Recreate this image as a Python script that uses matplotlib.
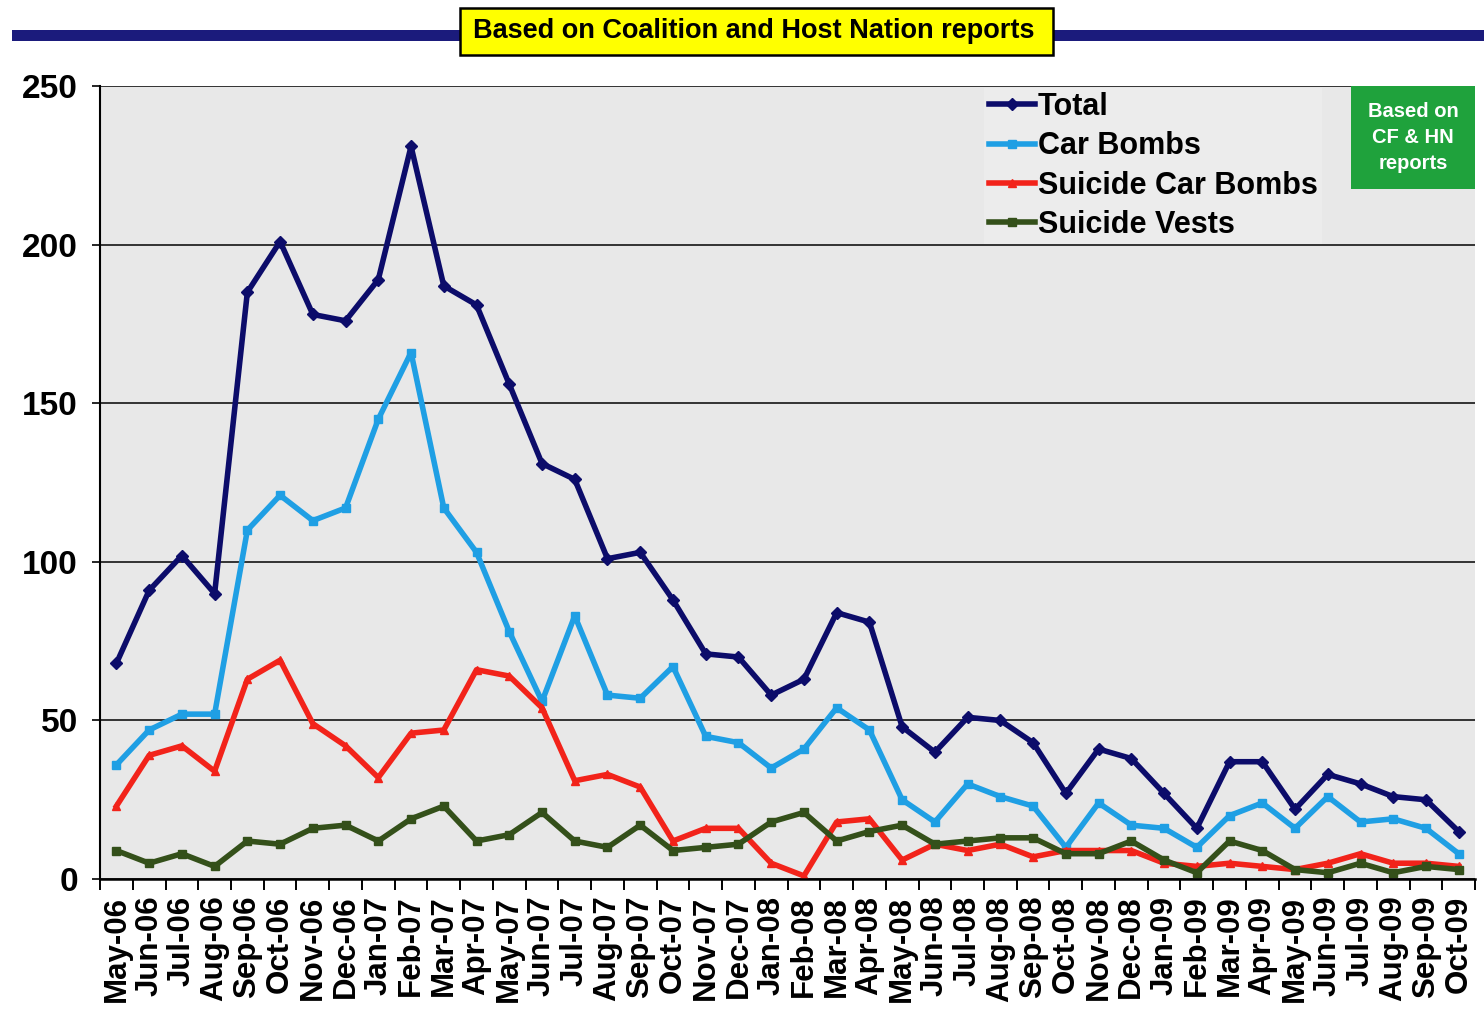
import matplotlib.pyplot as plt
from matplotlib.patches import Rectangle
from matplotlib import font_manager

months = ['May-06', 'Jun-06', 'Jul-06', 'Aug-06', 'Sep-06', 'Oct-06', 'Nov-06', 'Dec-06',
          'Jan-07', 'Feb-07', 'Mar-07', 'Apr-07', 'May-07', 'Jun-07', 'Jul-07', 'Aug-07',
          'Sep-07', 'Oct-07', 'Nov-07', 'Dec-07', 'Jan-08', 'Feb-08', 'Mar-08', 'Apr-08',
          'May-08', 'Jun-08', 'Jul-08', 'Aug-08', 'Sep-08', 'Oct-08', 'Nov-08', 'Dec-08',
          'Jan-09', 'Feb-09', 'Mar-09', 'Apr-09', 'May-09', 'Jun-09', 'Jul-09', 'Aug-09',
          'Sep-09', 'Oct-09']

total = [68, 91, 102, 90, 185, 201, 178, 176, 189, 231, 187, 181, 156, 131, 126, 101,
         103, 88, 71, 70, 58, 63, 84, 81, 48, 40, 51, 50, 43, 27, 41, 38,
         27, 16, 37, 37, 22, 33, 30, 26, 25, 15]
car_bombs = [36, 47, 52, 52, 110, 121, 113, 117, 145, 166, 117, 103, 78, 56, 83, 58,
             57, 67, 45, 43, 35, 41, 54, 47, 25, 18, 30, 26, 23, 10, 24, 17,
             16, 10, 20, 24, 16, 26, 18, 19, 16, 8]
suicide_car = [23, 39, 42, 34, 63, 69, 49, 42, 32, 46, 47, 66, 64, 54, 31, 33,
               29, 12, 16, 16, 5, 1, 18, 19, 6, 11, 9, 11, 7, 9, 9, 9,
               5, 4, 5, 4, 3, 5, 8, 5, 5, 4]
suicide_vests = [9, 5, 8, 4, 12, 11, 16, 17, 12, 19, 23, 12, 14, 21, 12, 10,
                 17, 9, 10, 11, 18, 21, 12, 15, 17, 11, 12, 13, 13, 8, 8, 12,
                 6, 2, 12, 9, 3, 2, 5, 2, 4, 3]

series = [
    ('Total', total, '#0c0c6a', 'D'),
    ('Car Bombs', car_bombs, '#1f9fe4', 's'),
    ('Suicide Car Bombs', suicide_car, '#f2231a', '^'),
    ('Suicide Vests', suicide_vests, '#34501a', 's'),
]

installed = {f.name for f in font_manager.fontManager.ttflist}
narrow = 'Liberation Sans Narrow' if 'Liberation Sans Narrow' in installed else 'Liberation Sans'
plt.rcParams['font.family'] = ['Liberation Sans', 'DejaVu Sans']

fig = plt.figure(figsize=(14.84, 10.21), dpi=100)
ax = fig.add_axes([0.0674, 0.139, 0.9266, 0.7767])
ax.set_facecolor('#e8e8e8')

x = list(range(len(months)))
for name, vals, color, marker in series:
    ax.plot(x, vals, color=color, lw=4.0, marker=marker, ms=6, label=name,
            solid_joinstyle='round')

ax.set_xlim(-0.5, len(months) - 0.5)
ax.set_ylim(0, 250)
ax.set_yticks(range(0, 251, 50))
ax.yaxis.grid(True, color='#333333', lw=1.4)
ax.set_axisbelow(True)
ax.tick_params(axis='y', length=6, width=1.2, labelsize=24, pad=10)
for lbl in ax.get_yticklabels():
    lbl.set_fontweight('bold')

ax.set_xticks(x)
ax.set_xticklabels(months, rotation=90, fontsize=22.5, fontweight='bold')
ax.set_xticks([i + 0.5 for i in range(-1, len(months))], minor=True)
ax.tick_params(axis='x', which='major', length=0, pad=12)
ax.tick_params(axis='x', which='minor', length=8, width=1.4, direction='out')

for side in ['top', 'right']:
    ax.spines[side].set_visible(False)
ax.spines['left'].set_linewidth(1.5)
ax.spines['bottom'].set_linewidth(1.8)

leg = ax.legend(loc='upper left', bbox_to_anchor=(0.642, 1.0), frameon=True,
                fancybox=False, framealpha=1, facecolor='#ececec', edgecolor='none',
                handlelength=1.5, handletextpad=0.1, labelspacing=0.3,
                borderpad=0.15, borderaxespad=0.05, prop={'weight': 'bold', 'size': 22})

# green note box in the corner
ax.add_patch(Rectangle((0.910, 0.87), 0.09, 0.13, transform=ax.transAxes,
                       facecolor='#1fa23c', edgecolor='none', zorder=5))
ax.text(0.955, 0.935, 'Based on\nCF & HN\nreports', transform=ax.transAxes,
        ha='center', va='center', color='white', fontsize=14.5, fontweight='bold',
        family=[narrow, 'DejaVu Sans'], linespacing=1.45, zorder=6)

# header bar and yellow label
fig.add_artist(Rectangle((12 / 1484, 1 - 41 / 1021), 1, 11 / 1021,
                         transform=fig.transFigure, facecolor='#1b1b7c', edgecolor='none'))
fig.add_artist(Rectangle((460 / 1484, 1 - 55 / 1021), 593 / 1484, 47 / 1021,
                         transform=fig.transFigure, facecolor='#ffff00',
                         edgecolor='black', lw=1.8))
fig.text(754 / 1484, 1 - 31 / 1021, 'Based on Coalition and Host Nation reports',
         ha='center', va='center', fontsize=19.5, fontweight='bold',
         family=[narrow, 'DejaVu Sans'])

fig.savefig('out.png', dpi=100)
